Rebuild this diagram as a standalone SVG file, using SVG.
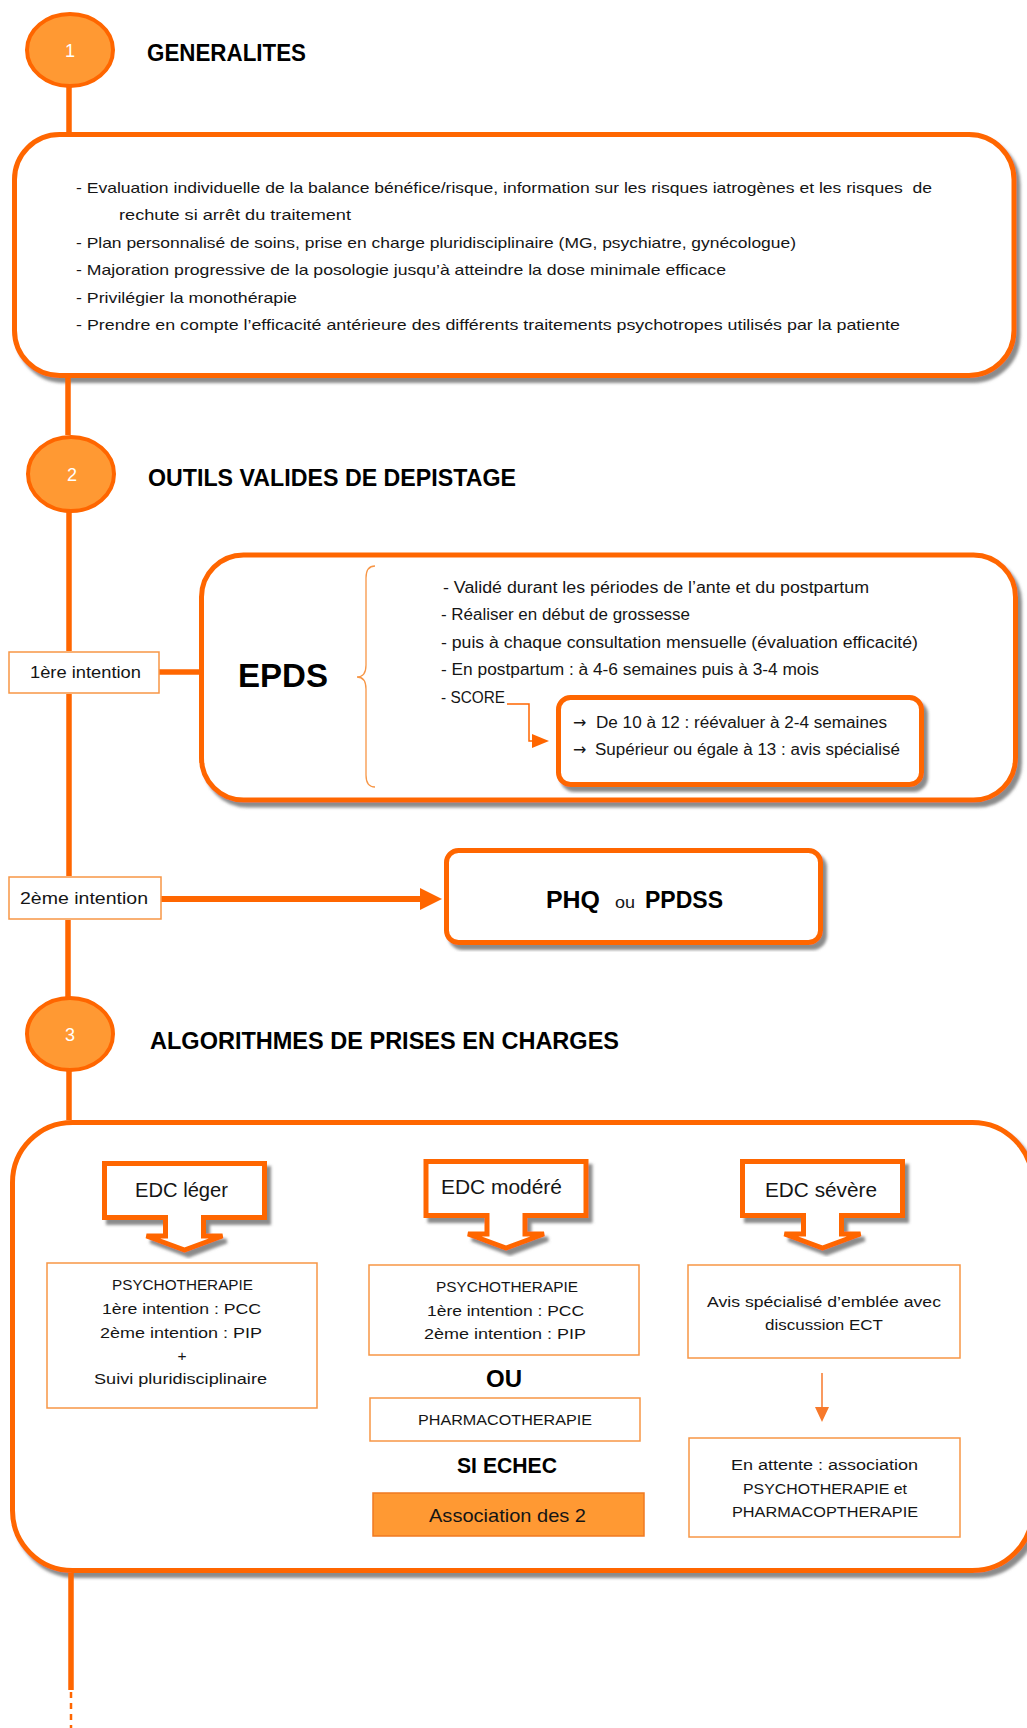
<svg xmlns="http://www.w3.org/2000/svg" width="1027" height="1728" viewBox="0 0 1027 1728">
<defs>
<filter id="sh" x="-3%" y="-5%" width="110%" height="115%">
<feDropShadow dx="4" dy="5" stdDeviation="1.5" flood-color="#777" flood-opacity="0.85"/>
</filter>
<style>
.t{font-family:"Liberation Sans",Arial,sans-serif;fill:#151515}
.ar{font-family:"DejaVu Sans",sans-serif;fill:#151515}
.h{font-family:"Liberation Sans",Arial,sans-serif;font-weight:bold;font-size:23px;fill:#000}
.b{font-family:"Liberation Sans",Arial,sans-serif;font-weight:bold;fill:#000}
.big{stroke:#FF6600;stroke-width:5;fill:#fff}
.thin{stroke:#F79646;stroke-width:1.5;fill:#fff}
.circ{fill:#FF9933;stroke:#FF6600;stroke-width:4}
.num{font-family:"Liberation Sans",Arial,sans-serif;font-size:18px;fill:#fff;text-anchor:middle}
.tl{stroke:#FF6600;stroke-width:5.5;fill:none}
.ln{stroke:#FF6600;stroke-width:1.5;fill:none}
.ah{fill:#FF6600}
</style>
</defs>

<g id="step1">
<ellipse class="circ" cx="70" cy="50" rx="43" ry="36"/>
<text class="num" x="70" y="57">1</text>
<text class="h" x="147" y="61" textLength="159" lengthAdjust="spacingAndGlyphs">GENERALITES</text>
</g>

<g id="generalites">
<rect class="big" x="14.5" y="134.5" width="999.5" height="241" rx="45" filter="url(#sh)"/>
<g class="t" font-size="15">
<text x="76" y="193" textLength="856" lengthAdjust="spacingAndGlyphs">- Evaluation individuelle de la balance bénéfice/risque, information sur les risques iatrogènes et les risques&#160; de</text>
<text x="119" y="220" textLength="232" lengthAdjust="spacingAndGlyphs">rechute si arrêt du traitement</text>
<text x="76" y="248" textLength="720" lengthAdjust="spacingAndGlyphs">- Plan personnalisé de soins, prise en charge pluridisciplinaire (MG, psychiatre, gynécologue)</text>
<text x="76" y="275" textLength="650" lengthAdjust="spacingAndGlyphs">- Majoration progressive de la posologie jusqu’à atteindre la dose minimale efficace</text>
<text x="76" y="303" textLength="221" lengthAdjust="spacingAndGlyphs">- Privilégier la monothérapie</text>
<text x="76" y="330" textLength="824" lengthAdjust="spacingAndGlyphs">- Prendre en compte l’efficacité antérieure des différents traitements psychotropes utilisés par la patiente</text>
</g>
</g>

<g id="step2">
<ellipse class="circ" cx="71" cy="474" rx="43" ry="37"/>
<text class="num" x="72" y="481">2</text>
<text class="h" x="148" y="486" textLength="368" lengthAdjust="spacingAndGlyphs">OUTILS VALIDES DE DEPISTAGE</text>
</g>

<g id="label1">
<rect class="thin" x="9" y="652" width="150" height="41"/>
<text class="t" font-size="17" x="30" y="678" textLength="111" lengthAdjust="spacingAndGlyphs">1ère intention</text>
</g>

<g id="epds">
<rect class="big" x="201.5" y="555" width="814" height="245" rx="42" filter="url(#sh)"/>
<text class="b" font-size="33" x="238" y="687" textLength="90" lengthAdjust="spacingAndGlyphs">EPDS</text>
<path d="M375,566 Q366,566 366,578 V665 Q366,677 357,677 Q366,677 366,689 V775 Q366,787 375,787" fill="none" stroke="#F79646" stroke-width="1.3"/>
<g class="t" font-size="16">
<text x="443" y="593" textLength="426" lengthAdjust="spacingAndGlyphs">- Validé durant les périodes de l’ante et du postpartum</text>
<text x="441" y="620" textLength="249" lengthAdjust="spacingAndGlyphs">- Réaliser en début de grossesse</text>
<text x="441" y="648" textLength="477" lengthAdjust="spacingAndGlyphs">- puis à chaque consultation mensuelle (évaluation efficacité)</text>
<text x="441" y="675" textLength="378" lengthAdjust="spacingAndGlyphs">- En postpartum : à 4-6 semaines puis à 3-4 mois</text>
<text x="441" y="703" textLength="64" lengthAdjust="spacingAndGlyphs">- SCORE</text>
</g>
</g>

<g id="score">
<rect class="big" x="558.5" y="697.5" width="363" height="87" rx="12" filter="url(#sh)"/>
<text class="ar" font-size="16" x="573" y="728">→</text>
<text class="ar" font-size="16" x="573" y="755">→</text>
<g class="t" font-size="16">
<text x="596" y="728" textLength="291" lengthAdjust="spacingAndGlyphs">De 10 à 12 : réévaluer à 2-4 semaines</text>
<text x="595" y="755" textLength="305" lengthAdjust="spacingAndGlyphs">Supérieur ou égale à 13 : avis spécialisé</text>
</g>
</g>

<g id="label2">
<rect class="thin" x="9" y="877" width="152" height="42"/>
<text class="t" font-size="17" x="20" y="904" textLength="128" lengthAdjust="spacingAndGlyphs">2ème intention</text>
</g>

<g id="phq">
<rect class="big" x="446.5" y="850.5" width="374" height="92" rx="12" filter="url(#sh)"/>
<text class="b" font-size="23" x="546" y="908" textLength="54" lengthAdjust="spacingAndGlyphs">PHQ</text>
<text class="t" font-size="16" x="615" y="908" textLength="20" lengthAdjust="spacingAndGlyphs">ou</text>
<text class="b" font-size="23" x="645" y="908" textLength="78" lengthAdjust="spacingAndGlyphs">PPDSS</text>
</g>

<g id="step3">
<ellipse class="circ" cx="70" cy="1034" rx="43" ry="36"/>
<text class="num" x="70" y="1041">3</text>
<text class="h" x="150" y="1049" textLength="469" lengthAdjust="spacingAndGlyphs">ALGORITHMES DE PRISES EN CHARGES</text>
</g>

<g id="algorithmes">
<rect class="big" x="12.5" y="1122.5" width="1020" height="448" rx="60" filter="url(#sh)"/>
</g>

<g id="edc-leger">
<path class="big" transform="translate(184.5,1161)" d="M-80,2.5 H80 V56.5 H19 V75 H38 L0,89 L-38,75 H-19 V56.5 H-80 Z" filter="url(#sh)"/>
<text class="t" font-size="20" x="135" y="1197" textLength="93" lengthAdjust="spacingAndGlyphs">EDC léger</text>
</g>
<g id="edc-modere">
<path class="big" transform="translate(506,1159)" d="M-80,2.5 H80 V56.5 H19 V75 H38 L0,89 L-38,75 H-19 V56.5 H-80 Z" filter="url(#sh)"/>
<text class="t" font-size="20" x="441" y="1194" textLength="121" lengthAdjust="spacingAndGlyphs">EDC modéré</text>
</g>
<g id="edc-severe">
<path class="big" transform="translate(822.5,1159)" d="M-80,2.5 H80 V56.5 H19 V75 H38 L0,89 L-38,75 H-19 V56.5 H-80 Z" filter="url(#sh)"/>
<text class="t" font-size="20" x="765" y="1197" textLength="112" lengthAdjust="spacingAndGlyphs">EDC sévère</text>
</g>

<g id="leger-psy">
<rect class="thin" x="47" y="1263" width="270" height="145"/>
<g class="t" font-size="15.5">
<text x="112" y="1290" textLength="141" lengthAdjust="spacingAndGlyphs">PSYCHOTHERAPIE</text>
<text x="102" y="1314" textLength="159" lengthAdjust="spacingAndGlyphs">1ère intention : PCC</text>
<text x="100" y="1338" textLength="162" lengthAdjust="spacingAndGlyphs">2ème intention : PIP</text>
<text x="182" y="1361" text-anchor="middle">+</text>
<text x="94" y="1384" textLength="173" lengthAdjust="spacingAndGlyphs">Suivi pluridisciplinaire</text>
</g>
</g>

<g id="modere-psy">
<rect class="thin" x="369" y="1265" width="270" height="90"/>
<g class="t" font-size="15.5">
<text x="436" y="1292" textLength="142" lengthAdjust="spacingAndGlyphs">PSYCHOTHERAPIE</text>
<text x="427" y="1316" textLength="157" lengthAdjust="spacingAndGlyphs">1ère intention : PCC</text>
<text x="424" y="1339" textLength="162" lengthAdjust="spacingAndGlyphs">2ème intention : PIP</text>
</g>
</g>
<text class="b" font-size="23" x="486" y="1387" textLength="36" lengthAdjust="spacingAndGlyphs">OU</text>
<g id="modere-pharma">
<rect class="thin" x="370" y="1398" width="270" height="43"/>
<text class="t" font-size="15.5" x="418" y="1425" textLength="174" lengthAdjust="spacingAndGlyphs">PHARMACOTHERAPIE</text>
</g>
<text class="b" font-size="22" x="457" y="1473" textLength="100" lengthAdjust="spacingAndGlyphs">SI ECHEC</text>
<g id="association">
<rect x="373" y="1493" width="271" height="43" fill="#FF9933" stroke="#F07A22" stroke-width="1.5"/>
<text class="t" font-size="19" x="429" y="1522" textLength="157" lengthAdjust="spacingAndGlyphs">Association des 2</text>
</g>

<g id="severe-avis">
<rect class="thin" x="688" y="1265" width="272" height="93"/>
<g class="t" font-size="15.5">
<text x="707" y="1307" textLength="234" lengthAdjust="spacingAndGlyphs">Avis spécialisé d’emblée avec</text>
<text x="765" y="1330" textLength="118" lengthAdjust="spacingAndGlyphs">discussion ECT</text>
</g>
</g>
<g id="severe-attente">
<rect class="thin" x="689" y="1438" width="271" height="99"/>
<g class="t" font-size="15.5">
<text x="731" y="1470" textLength="187" lengthAdjust="spacingAndGlyphs">En attente : association</text>
<text x="743" y="1494" textLength="164" lengthAdjust="spacingAndGlyphs">PSYCHOTHERAPIE et</text>
<text x="732" y="1517" textLength="186" lengthAdjust="spacingAndGlyphs">PHARMACOPTHERAPIE</text>
</g>
</g>

<g id="connectors">
<path class="tl" d="M69,87 V132 M68,378 V435 M69,512 V651 M69,694 V876 M68,920 V997 M69,1071 V1120 M71,1573 V1690"/>
<path d="M71,1692 V1728" stroke="#FF6600" stroke-width="2.5" stroke-dasharray="6 5"/>
<path class="tl" d="M159.5,672 H200"/>
<path d="M161.5,899 H423" stroke="#FF6600" stroke-width="6"/>
<polygon class="ah" points="420,888 442,899 420,910"/>
<path class="ln" d="M507,704 H529 V741 H534"/>
<polygon class="ah" points="532,734 549,741 532,748"/>
<path d="M822,1373 V1410" stroke="#F7792B" stroke-width="1.5"/>
<polygon fill="#F7792B" points="815,1407 829,1407 822,1422"/>
</g>
</svg>
